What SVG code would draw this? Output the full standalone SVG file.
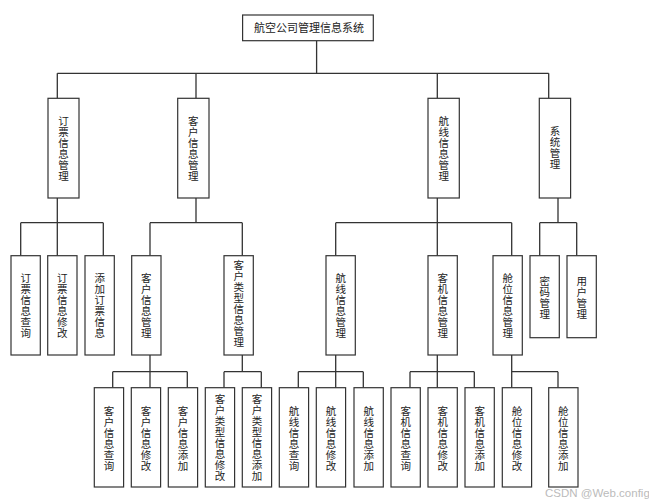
<svg xmlns="http://www.w3.org/2000/svg" width="649" height="504" viewBox="0 0 649 504">
<style>
.b{fill:#fff;stroke:#333;stroke-width:1.2}
.t{font-family:"Noto Sans CJK SC","Noto Sans",sans-serif;font-size:11px;fill:#222;text-anchor:middle}
.v{font-family:"Noto Sans CJK SC","Noto Sans",sans-serif;font-size:10.5px;letter-spacing:0.5px;fill:#222;text-anchor:middle;writing-mode:vertical-rl}
.c{fill:none;stroke:#333;stroke-width:1.3}
.w{font-family:"Liberation Sans",sans-serif;font-size:11.5px;fill:#bbb}
</style>
<rect width="649" height="504" fill="#fff"/>
<g id="connectors" class="c">
<path d="M316.6 40.7V73.3M57.3 73.3H548.7M57.3 73.3V98.3M196 73.3V98.3M437.3 73.3V98.3M548.7 73.3V98.3"/>
<path d="M57.3 198V222.7M20.7 222.7H103.3M20.7 222.7V255.7M57.3 222.7V255.7M103.3 222.7V255.7"/>
<path d="M196 198V222.7M150 222.7H242.3M150 222.7V255.7M242.3 222.7V255.7"/>
<path d="M437.3 198V222.7M335.7 222.7H511.7M335.7 222.7V255.7M437.3 222.7V255.7M511.7 222.7V255.7"/>
<path d="M558 198V222.7M539.7 222.7H576.7M539.7 222.7V255.7M576.7 222.7V255.7"/>
<path d="M150 355V371.7M112.7 371.7H187.3M112.7 371.7V387.7M150 371.7V387.7M187.3 371.7V387.7"/>
<path d="M242.3 355V371.7M224 371.7H261.3M224 371.7V387.7M261.3 371.7V387.7"/>
<path d="M335.7 355V371.7M298.3 371.7H363.3M298.3 371.7V387.7M335.7 371.7V387.7M363.3 371.7V387.7"/>
<path d="M437.3 355V371.7M410 371.7H474.3M410 371.7V387.7M437.3 371.7V387.7M474.3 371.7V387.7"/>
<path d="M511.7 355V371.7M511.7 371.7H558M511.7 371.7V387.7M558 371.7V387.7"/>
</g>
<g id="root"><rect class="b" x="242.6" y="15" width="130.7" height="25.7"/><text class="t" x="309" y="32">航空公司管理信息系统</text></g>
<g id="n1"><rect class="b" x="48" y="98.3" width="31" height="99.7"/><text class="v" x="63.5" y="149">订票信息管理</text></g>
<g id="n2"><rect class="b" x="177.7" y="98.3" width="31.3" height="99.7"/><text class="v" x="193.3" y="149">客户信息管理</text></g>
<g id="n3"><rect class="b" x="428" y="98.3" width="31.3" height="99.7"/><text class="v" x="443.7" y="149">航线信息管理</text></g>
<g id="n4"><rect class="b" x="539.3" y="98.3" width="31.3" height="99.7"/><text class="v" x="555" y="148">系统管理</text></g>
<g id="n11"><rect class="b" x="11" y="255.7" width="29.3" height="99.3"/><text class="v" x="25.7" y="305.8">订票信息查询</text></g>
<g id="n12"><rect class="b" x="47.7" y="255.7" width="29.3" height="99.3"/><text class="v" x="62.3" y="305.8">订票信息修改</text></g>
<g id="n13"><rect class="b" x="85" y="255.7" width="29.3" height="99.3"/><text class="v" x="99.7" y="305.8">添加订票信息</text></g>
<g id="n21"><rect class="b" x="131.7" y="255.7" width="29.3" height="99.3"/><text class="v" x="146.3" y="305.8">客户信息管理</text></g>
<g id="n22"><rect class="b" x="224" y="255.7" width="29.3" height="99.3"/><text class="v" x="238.7" y="303.5">客户类型信息管理</text></g>
<g id="n31"><rect class="b" x="326" y="255.7" width="29.3" height="99.3"/><text class="v" x="340.7" y="305.8">航线信息管理</text></g>
<g id="n32"><rect class="b" x="428" y="255.7" width="29.3" height="99.3"/><text class="v" x="442.7" y="305.8">客机信息管理</text></g>
<g id="n33"><rect class="b" x="493" y="255.7" width="29.3" height="99.3"/><text class="v" x="507.7" y="305.8">舱位信息管理</text></g>
<g id="n41"><rect class="b" x="530" y="255.7" width="29.3" height="82"/><text class="v" x="544.7" y="298">密码管理</text></g>
<g id="n42"><rect class="b" x="567" y="255.7" width="29.3" height="82"/><text class="v" x="581.7" y="298">用户管理</text></g>
<g id="n211"><rect class="b" x="94.3" y="387.7" width="29.3" height="99.3"/><text class="v" x="109" y="438.3">客户信息查询</text></g>
<g id="n212"><rect class="b" x="131.3" y="387.7" width="29.3" height="99.3"/><text class="v" x="146" y="438.3">客户信息修改</text></g>
<g id="n213"><rect class="b" x="168.3" y="387.7" width="29.3" height="99.3"/><text class="v" x="183" y="438.3">客户信息添加</text></g>
<g id="n221"><rect class="b" x="205.3" y="387.7" width="29.3" height="99.3"/><text class="v" x="220" y="437.5">客户类型信息修改</text></g>
<g id="n222"><rect class="b" x="242.3" y="387.7" width="29.3" height="99.3"/><text class="v" x="257" y="437.5">客户类型信息添加</text></g>
<g id="n311"><rect class="b" x="279.3" y="387.7" width="29.3" height="99.3"/><text class="v" x="294" y="438.3">航线信息查询</text></g>
<g id="n312"><rect class="b" x="316.3" y="387.7" width="29.3" height="99.3"/><text class="v" x="331" y="438.3">航线信息修改</text></g>
<g id="n313"><rect class="b" x="354" y="387.7" width="29.3" height="99.3"/><text class="v" x="368.7" y="438.3">航线信息添加</text></g>
<g id="n321"><rect class="b" x="391" y="387.7" width="29.3" height="99.3"/><text class="v" x="405.7" y="438.3">客机信息查询</text></g>
<g id="n322"><rect class="b" x="428" y="387.7" width="29.3" height="99.3"/><text class="v" x="442.7" y="438.3">客机信息修改</text></g>
<g id="n323"><rect class="b" x="465" y="387.7" width="29.3" height="99.3"/><text class="v" x="479.7" y="438.3">客机信息添加</text></g>
<g id="n331"><rect class="b" x="502.3" y="387.7" width="29.3" height="99.3"/><text class="v" x="517" y="438.3">舱位信息修改</text></g>
<g id="n332"><rect class="b" x="548.7" y="387.7" width="29.3" height="99.3"/><text class="v" x="563.3" y="438.3">舱位信息添加</text></g>
<text class="w" x="545" y="497">CSDN @Web.config</text>
</svg>
